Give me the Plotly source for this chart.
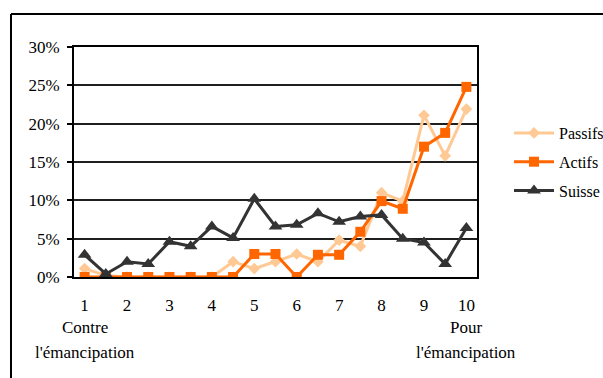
import plotly.graph_objects as go

# Position on the 1-10 scale, in half steps (19 categories)
positions = list(range(19))
tick_positions = [0, 2, 4, 6, 8, 10, 12, 14, 16, 18]
tick_labels = ["1", "2", "3", "4", "5", "6", "7", "8", "9", "10"]

# Shares of respondents (%)
passifs = [1.1, 0.2, 0, 0, 0, 0, 0, 2.0, 1.1, 2.0, 3.0, 2.0, 4.8, 4.0, 11.0, 9.9, 21.1, 15.8, 21.9]
actifs = [0, 0, 0, 0, 0, 0, 0, 0, 3.0, 3.0, 0, 2.9, 2.9, 5.9, 9.9, 8.9, 17.0, 18.8, 24.8]
suisse = [2.9, 0.4, 2.0, 1.7, 4.6, 4.0, 6.6, 5.1, 10.2, 6.6, 6.8, 8.3, 7.2, 7.9, 8.1, 5.0, 4.5, 1.7, 6.4]

FONT = "Liberation Serif"
FS = 17
W, H = 603, 378
L, R, T, B = 74, 126, 47, 101
pw, ph = W - L - R, H - T - B

fig = go.Figure()
fig.add_trace(go.Scatter(x=positions, y=passifs, name="Passifs", mode="lines+markers",
                         line=dict(color="#FFC995", width=3),
                         marker=dict(symbol="diamond", size=9, color="#FFC995"),
                         legendgroup="a"))
fig.add_trace(go.Scatter(x=positions, y=actifs, name="Actifs", mode="lines+markers",
                         line=dict(color="#FF6600", width=3),
                         marker=dict(symbol="square", size=10, color="#FF6600"),
                         legendgroup="b"))
fig.add_trace(go.Scatter(x=positions, y=suisse, name="Suisse", mode="lines+markers",
                         line=dict(color="#333333", width=3),
                         marker=dict(symbol="triangle-up", size=12, color="#333333"),
                         legendgroup="c"))

def px_x(p):
    return (p - L) / pw

def px_y(p):
    return (H - B - p) / ph

# outer frame of the chart (top and left edges)
frame = dict(type="line", xref="paper", yref="paper", line=dict(color="black", width=2))
fig.add_shape(**frame, x0=px_x(11), y0=px_y(14), x1=px_x(W + 5), y1=px_y(14))
fig.add_shape(**frame, x0=px_x(11), y0=px_y(14), x1=px_x(11), y1=px_y(H + 5))

anno = dict(xref="x", yref="paper", showarrow=False, font=dict(family=FONT, size=FS, color="black"),
            xanchor="center", yanchor="middle")
fig.add_annotation(**anno, x=0, y=px_y(327), text="Contre")
fig.add_annotation(**anno, x=0, y=px_y(352), text="l'émancipation")
fig.add_annotation(**anno, x=18, y=px_y(327), text="Pour")
fig.add_annotation(**anno, x=18, y=px_y(352), text="l'émancipation")

fig.update_layout(
    width=W, height=H,
    margin=dict(l=L, r=R, t=T, b=B, autoexpand=False),
    paper_bgcolor="white", plot_bgcolor="white",
    font=dict(family=FONT, size=FS, color="black"),
    showlegend=True,
    legend=dict(x=px_x(509), y=px_y(116), xanchor="left", yanchor="top",
                font=dict(family=FONT, size=16, color="black"),
                itemwidth=40, tracegroupgap=5, bgcolor="rgba(0,0,0,0)"),
    xaxis=dict(range=[-0.5, 18.5], tickvals=tick_positions, ticktext=tick_labels,
               showgrid=False, zeroline=False, showline=True, linecolor="black",
               linewidth=2, mirror=True, ticks="outside", ticklen=12,
               tickcolor="rgba(0,0,0,0)"),
    yaxis=dict(range=[0, 30], tickvals=[0, 5, 10, 15, 20, 25, 30],
               ticktext=["0%", "5%", "10%", "15%", "20%", "25%", "30%"],
               showgrid=True, gridcolor="#1f1f1f", gridwidth=2, zeroline=False,
               showline=True, linecolor="black", linewidth=2, mirror=True,
               ticks="outside", ticklen=5, tickwidth=2, tickcolor="black",
               ticklabelstandoff=4),
)

fig.write_html("out.html")
